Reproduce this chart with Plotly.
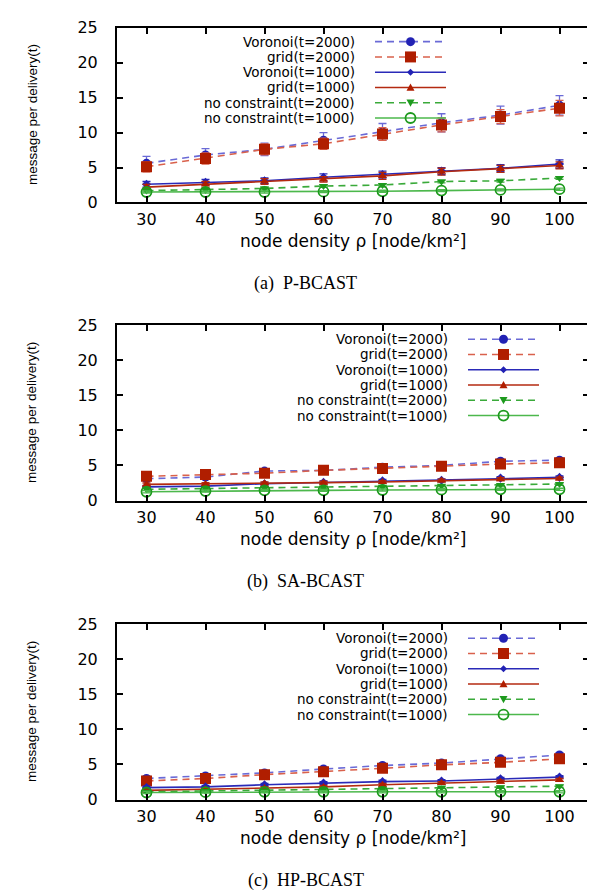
import plotly.graph_objects as go

# ---------------- data ----------------
density = [30, 40, 50, 60, 70, 80, 90, 100]
x_tick_values = [30, 40, 50, 60, 70, 80, 90, 100]
y_tick_values = [0, 5, 10, 15, 20, 25]

series_names = ["Voronoi(t=2000)", "grid(t=2000)", "Voronoi(t=1000)",
                "grid(t=1000)", "no constraint(t=2000)", "no constraint(t=1000)"]
panel_captions = ["(a)  P-BCAST", "(b)  SA-BCAST", "(c)  HP-BCAST"]
x_title = "node density \u03c1 [node/km\u00b2]"
y_title = "message per delivery(t)"

# (a) P-BCAST
pb_voronoi_2000 = [5.6, 6.8, 7.6, 8.9, 10.1, 11.4, 12.5, 13.9]
pb_grid_2000 = [5.1, 6.3, 7.6, 8.4, 9.8, 11.1, 12.3, 13.5]
pb_voronoi_1000 = [2.6, 2.9, 3.1, 3.6, 4.0, 4.5, 4.9, 5.5]
pb_grid_1000 = [2.2, 2.6, 3.0, 3.3, 3.8, 4.4, 4.8, 5.3]
pb_nc_2000 = [1.7, 1.8, 2.0, 2.35, 2.5, 3.0, 3.1, 3.5]
pb_nc_1000 = [1.5, 1.5, 1.5, 1.55, 1.6, 1.7, 1.8, 1.9]
pb_voronoi_2000_err = [1.0, 0.9, 0.9, 1.1, 1.2, 1.3, 1.3, 1.4]
pb_grid_2000_err = [0.7, 0.8, 0.8, 0.8, 0.9, 1.0, 1.0, 1.1]
pb_voronoi_1000_err = [0.4, 0.4, 0.4, 0.5, 0.5, 0.5, 0.5, 0.6]
pb_grid_1000_err = [0.4, 0.4, 0.4, 0.4, 0.5, 0.5, 0.5, 0.5]
pb_nc_2000_err = [0.2, 0.2, 0.2, 0.2, 0.2, 0.2, 0.2, 0.2]
pb_nc_1000_err = [0.15, 0.15, 0.15, 0.15, 0.15, 0.15, 0.15, 0.15]

# (b) SA-BCAST
sa_voronoi_2000 = [3.1, 3.35, 4.2, 4.3, 4.75, 5.0, 5.6, 5.75]
sa_grid_2000 = [3.45, 3.7, 3.9, 4.3, 4.55, 4.9, 5.2, 5.4]
sa_voronoi_1000 = [1.95, 2.05, 2.4, 2.6, 2.8, 2.9, 3.2, 3.3]
sa_grid_1000 = [2.3, 2.35, 2.45, 2.55, 2.65, 2.85, 3.05, 3.15]
sa_nc_2000 = [1.6, 1.7, 1.75, 1.85, 1.95, 2.1, 2.2, 2.35]
sa_nc_1000 = [1.25, 1.35, 1.45, 1.45, 1.5, 1.55, 1.6, 1.6]
sa_voronoi_2000_err = [0.3, 0.3, 0.3, 0.3, 0.3, 0.3, 0.35, 0.35]
sa_grid_2000_err = [0.3, 0.3, 0.3, 0.3, 0.3, 0.3, 0.3, 0.3]
sa_voronoi_1000_err = [0.2, 0.2, 0.2, 0.2, 0.2, 0.2, 0.2, 0.2]
sa_grid_1000_err = [0.2, 0.2, 0.2, 0.2, 0.2, 0.2, 0.2, 0.2]
sa_nc_2000_err = [0.15, 0.15, 0.15, 0.15, 0.15, 0.15, 0.15, 0.15]
sa_nc_1000_err = [0.15, 0.15, 0.15, 0.15, 0.15, 0.15, 0.15, 0.15]

# (c) HP-BCAST
hp_voronoi_2000 = [3.0, 3.35, 3.8, 4.35, 4.85, 5.2, 5.8, 6.35]
hp_grid_2000 = [2.65, 3.0, 3.55, 3.95, 4.45, 4.95, 5.3, 5.8]
hp_voronoi_1000 = [1.7, 1.8, 2.1, 2.35, 2.55, 2.65, 2.95, 3.2]
hp_grid_1000 = [1.3, 1.45, 1.65, 1.8, 2.1, 2.35, 2.55, 2.8]
hp_nc_2000 = [1.1, 1.2, 1.3, 1.4, 1.55, 1.7, 1.75, 1.9]
hp_nc_1000 = [1.0, 1.05, 1.1, 1.1, 1.1, 1.1, 1.1, 1.1]
hp_voronoi_2000_err = [0.3, 0.3, 0.3, 0.3, 0.3, 0.3, 0.35, 0.35]
hp_grid_2000_err = [0.3, 0.3, 0.3, 0.3, 0.3, 0.3, 0.3, 0.3]
hp_voronoi_1000_err = [0.2, 0.2, 0.2, 0.2, 0.2, 0.2, 0.2, 0.2]
hp_grid_1000_err = [0.2, 0.2, 0.2, 0.2, 0.2, 0.2, 0.2, 0.2]
hp_nc_2000_err = [0.15, 0.15, 0.15, 0.15, 0.15, 0.15, 0.15, 0.15]
hp_nc_1000_err = [0.15, 0.15, 0.15, 0.15, 0.15, 0.15, 0.15, 0.15]

panels_values = [
    [pb_voronoi_2000, pb_grid_2000, pb_voronoi_1000, pb_grid_1000, pb_nc_2000, pb_nc_1000],
    [sa_voronoi_2000, sa_grid_2000, sa_voronoi_1000, sa_grid_1000, sa_nc_2000, sa_nc_1000],
    [hp_voronoi_2000, hp_grid_2000, hp_voronoi_1000, hp_grid_1000, hp_nc_2000, hp_nc_1000],
]
panels_errors = [
    [pb_voronoi_2000_err, pb_grid_2000_err, pb_voronoi_1000_err, pb_grid_1000_err, pb_nc_2000_err, pb_nc_1000_err],
    [sa_voronoi_2000_err, sa_grid_2000_err, sa_voronoi_1000_err, sa_grid_1000_err, sa_nc_2000_err, sa_nc_1000_err],
    [hp_voronoi_2000_err, hp_grid_2000_err, hp_voronoi_1000_err, hp_grid_1000_err, hp_nc_2000_err, hp_nc_1000_err],
]

# ---------------- styles ----------------
W, H = 595, 894
line_colors = ["#6a6ad6", "#d9614c", "#2a2ab8", "#b42a10", "#3aaa3a", "#4cb84c"]
marker_colors = ["#2222b4", "#b01e00", "#2222b4", "#b01e00", "#1e9a1e", "#1e9a1e"]
dashes = ["7px,5px", "7px,5px", "solid", "solid", "7px,5px", "solid"]
symbols = ["circle", "square", "diamond", "triangle-up", "triangle-down", "circle-open"]
msizes = [9, 11, 7, 8, 8, 10]

plot_left, plot_right = 109, 581
panel_tops = [11, 315, 620.5]
panel_bottoms = [189.5, 494, 799.5]
legend_text_right = [348, 441, 441]
legend_row_gap = 15.6
caption_y = [272, 577, 882]

tick_font = dict(family="DejaVu Sans", size=16, color="black")
legend_font = dict(family="DejaVu Sans", size=13.5, color="black")

def px(x):
    return x / W

def py(y):
    return 1 - y / H

fig = go.Figure()
shapes = []
annotations = []

for p in range(3):
    xa = "x" if p == 0 else f"x{p+1}"
    ya = "y" if p == 0 else f"y{p+1}"
    for i, name in enumerate(series_names):
        fig.add_trace(go.Scatter(
            x=density, y=panels_values[p][i], name=name, mode="lines+markers",
            xaxis=xa, yaxis=ya, showlegend=False,
            line=dict(color=line_colors[i], width=1.6, dash=dashes[i]),
            marker=dict(symbol=symbols[i], size=msizes[i], color=marker_colors[i],
                        line=dict(color=marker_colors[i], width=1.8 if symbols[i] == "circle-open" else 0)),
            error_y=dict(type="data", array=panels_errors[p][i], visible=True,
                         color=line_colors[i], thickness=1.3, width=4),
        ))

    lay_x = dict(domain=[px(plot_left), px(plot_right)], range=[25, 105],
                 tickvals=x_tick_values, ticks="inside", ticklen=6, tickwidth=2,
                 tickcolor="black", showline=True, linecolor="black", linewidth=2,
                 mirror="ticks", showgrid=False, zeroline=False, tickfont=tick_font,
                 anchor=ya, ticklabelstandoff=1)
    lay_y = dict(domain=[py(panel_bottoms[p]), py(panel_tops[p])], range=[0, 25],
                 tickvals=y_tick_values, ticks="inside", ticklen=6, tickwidth=2,
                 tickcolor="black", showline=True, linecolor="black", linewidth=2,
                 mirror="ticks", showgrid=False, zeroline=False, tickfont=tick_font,
                 anchor=xa, ticklabelstandoff=14)
    key = "" if p == 0 else str(p + 1)
    fig.update_layout(**{f"xaxis{key}": lay_x, f"yaxis{key}": lay_y})

    # axis titles
    annotations.append(dict(text=x_title,
                            x=px((plot_left + plot_right) / 2), y=py(panel_bottoms[p] + 39),
                            xref="paper", yref="paper", showarrow=False,
                            xanchor="center", yanchor="middle",
                            font=dict(family="DejaVu Sans", size=17, color="black")))
    annotations.append(dict(text=y_title, textangle=-90,
                            x=px(24), y=py((panel_tops[p] + panel_bottoms[p]) / 2),
                            xref="paper", yref="paper", showarrow=False,
                            xanchor="center", yanchor="middle",
                            font=dict(family="Liberation Sans", size=13.5, color="black")))
    annotations.append(dict(text=panel_captions[p], x=0.5, y=py(caption_y[p]),
                            xref="paper", yref="paper", showarrow=False,
                            xanchor="center", yanchor="middle",
                            font=dict(family="Liberation Serif", size=18, color="black")))

    # key (legend) inside the frame
    for i, name in enumerate(series_names):
        row_y = panel_tops[p] + 14.2 + legend_row_gap * i
        tr = legend_text_right[p]
        annotations.append(dict(text=name, x=px(tr), y=py(row_y), xref="paper", yref="paper",
                                showarrow=False, xanchor="right", yanchor="middle",
                                borderpad=0, font=legend_font))
        x0, x1 = tr + 19, tr + 90
        xm = (x0 + x1) / 2
        shapes.append(dict(type="line", xref="paper", yref="paper",
                           x0=px(x0), x1=px(x1), y0=py(row_y), y1=py(row_y),
                           line=dict(color=line_colors[i], width=1.6, dash=dashes[i])))
        s = msizes[i] / 2
        base = dict(xref="paper", yref="paper", xsizemode="pixel", ysizemode="pixel",
                    xanchor=px(xm), yanchor=py(row_y))
        sym = symbols[i]
        if sym == "circle":
            shapes.append(dict(base, type="circle", x0=-s, x1=s, y0=-s, y1=s,
                               fillcolor=marker_colors[i], line=dict(width=0)))
        elif sym == "circle-open":
            shapes.append(dict(base, type="circle", x0=-s, x1=s, y0=-s, y1=s,
                               fillcolor="rgba(0,0,0,0)", line=dict(color=marker_colors[i], width=1.8)))
        elif sym == "square":
            shapes.append(dict(base, type="rect", x0=-s, x1=s, y0=-s, y1=s,
                               fillcolor=marker_colors[i], line=dict(width=0)))
        elif sym == "diamond":
            shapes.append(dict(base, type="path", path=f"M{-s},0 L0,{s} L{s},0 L0,{-s} Z",
                               fillcolor=marker_colors[i], line=dict(width=0)))
        elif sym == "triangle-up":
            shapes.append(dict(base, type="path", path=f"M{-s},{-s*0.8} L{s},{-s*0.8} L0,{s} Z",
                               fillcolor=marker_colors[i], line=dict(width=0)))
        elif sym == "triangle-down":
            shapes.append(dict(base, type="path", path=f"M{-s},{s*0.8} L{s},{s*0.8} L0,{-s} Z",
                               fillcolor=marker_colors[i], line=dict(width=0)))

fig.update_layout(width=W, height=H, autosize=False,
                  margin=dict(l=0, r=0, t=0, b=0),
                  paper_bgcolor="white", plot_bgcolor="white",
                  showlegend=False, shapes=shapes, annotations=annotations)

fig.write_html("out.html")
